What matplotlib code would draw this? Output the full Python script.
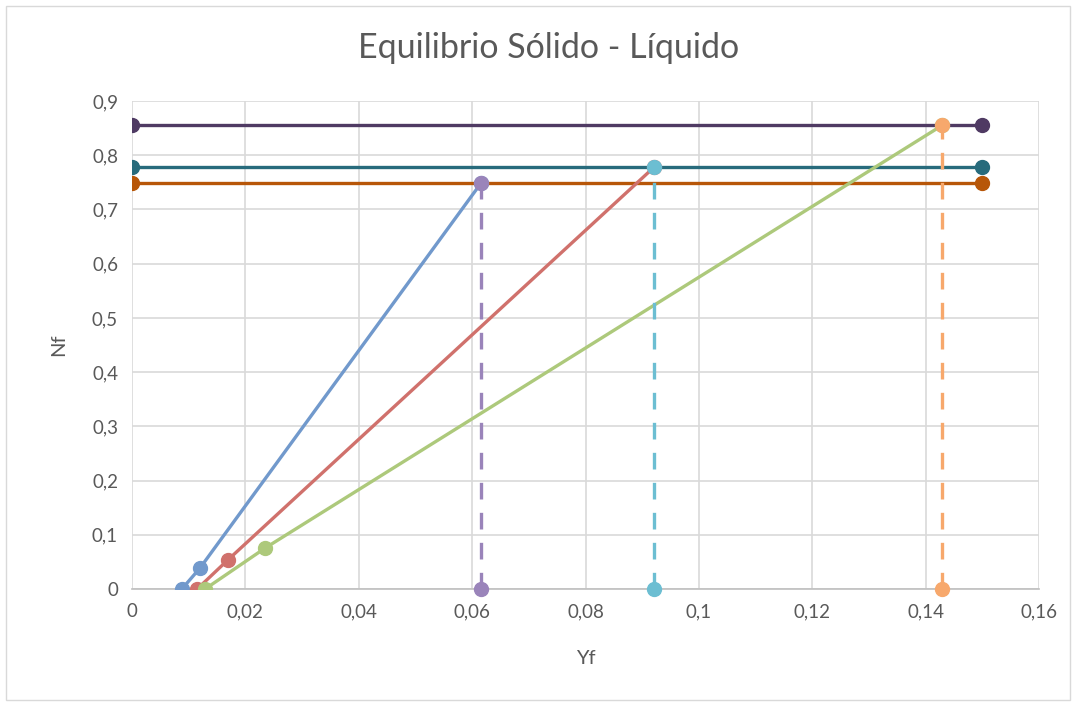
import matplotlib.pyplot as plt

plt.rcParams['font.family'] = ['Lato', 'DejaVu Sans']

# horizontal operating lines (Nf constant)
h_x = [0, 0.15]
h_levels = [0.855, 0.778, 0.749]
h_colors = ['#4f3a63', '#276b7c', '#b75608']

# tie lines
tie1_x = [0.0088, 0.0120, 0.0616]
tie1_y = [0.0, 0.0387, 0.749]
tie2_x = [0.0115, 0.0169, 0.0921]
tie2_y = [0.0, 0.0535, 0.778]
tie3_x = [0.0129, 0.0235, 0.1429]
tie3_y = [0.0, 0.0756, 0.855]

# vertical projections
v_x = [0.0616, 0.0921, 0.1429]
v_top = [0.749, 0.778, 0.855]
v_colors = ['#9a84ba', '#6cbed2', '#f7a86c']

fig = plt.figure(figsize=(10.76, 7.04), dpi=100)
ax = fig.add_axes([132/1076, 1-589/704, (1039-132)/1076, (589-101)/704])

for lvl, c in zip(h_levels, h_colors):
    ax.plot(h_x, [lvl, lvl], color=c, lw=2.4, marker='o', ms=10, zorder=3)

ax.plot(tie1_x, tie1_y, color='#7199cc', lw=2.4, marker='o', ms=10, zorder=4)
ax.plot(tie2_x, tie2_y, color='#d0716c', lw=2.4, marker='o', ms=10, zorder=4)
ax.plot(tie3_x, tie3_y, color='#adc97b', lw=2.4, marker='o', ms=10, zorder=4)

for x, top, c in zip(v_x, v_top, v_colors):
    ax.plot([x, x], [0, top], color=c, lw=2.4, ls=(0, (5, 4)), marker='o', ms=10,
            zorder=5, clip_on=False)

ax.set_xlim(0, 0.16)
ax.set_ylim(0, 0.9)
xt = [0, 0.02, 0.04, 0.06, 0.08, 0.1, 0.12, 0.14, 0.16]
yt = [0, 0.1, 0.2, 0.3, 0.4, 0.5, 0.6, 0.7, 0.8, 0.9]
ax.set_xticks(xt)
ax.set_yticks(yt)
ax.set_xticklabels(['0' if v == 0 else f'{v:g}'.replace('.', ',') for v in xt])
ax.set_yticklabels(['0' if v == 0 else f'{v:g}'.replace('.', ',') for v in yt])
ax.tick_params(length=0, labelsize=13.5, colors='#595959', pad=10)
ax.grid(True, color='#d9d9d9', lw=1.2)
ax.set_axisbelow(True)
for s in ['top', 'right', 'left']:
    ax.spines[s].set_visible(False)
ax.spines['bottom'].set_color('#bfbfbf')
ax.spines['bottom'].set_linewidth(1.2)

ax.set_xlabel('Yf', fontsize=14.5, color='#595959', labelpad=22)
ax.set_ylabel('Nf', fontsize=14.5, color='#595959', labelpad=18)
fig.text(549/1076, 1-48/704, 'Equilibrio Sólido - Líquido', ha='center', va='center',
         fontsize=24.5, color='#595959')

fig.patches.append(plt.Rectangle((6/1076, 1-700/704), 1064/1076, 694/704,
                                 transform=fig.transFigure, fill=False,
                                 edgecolor='#d9d9d9', lw=1))

fig.savefig('out.png', dpi=100)
